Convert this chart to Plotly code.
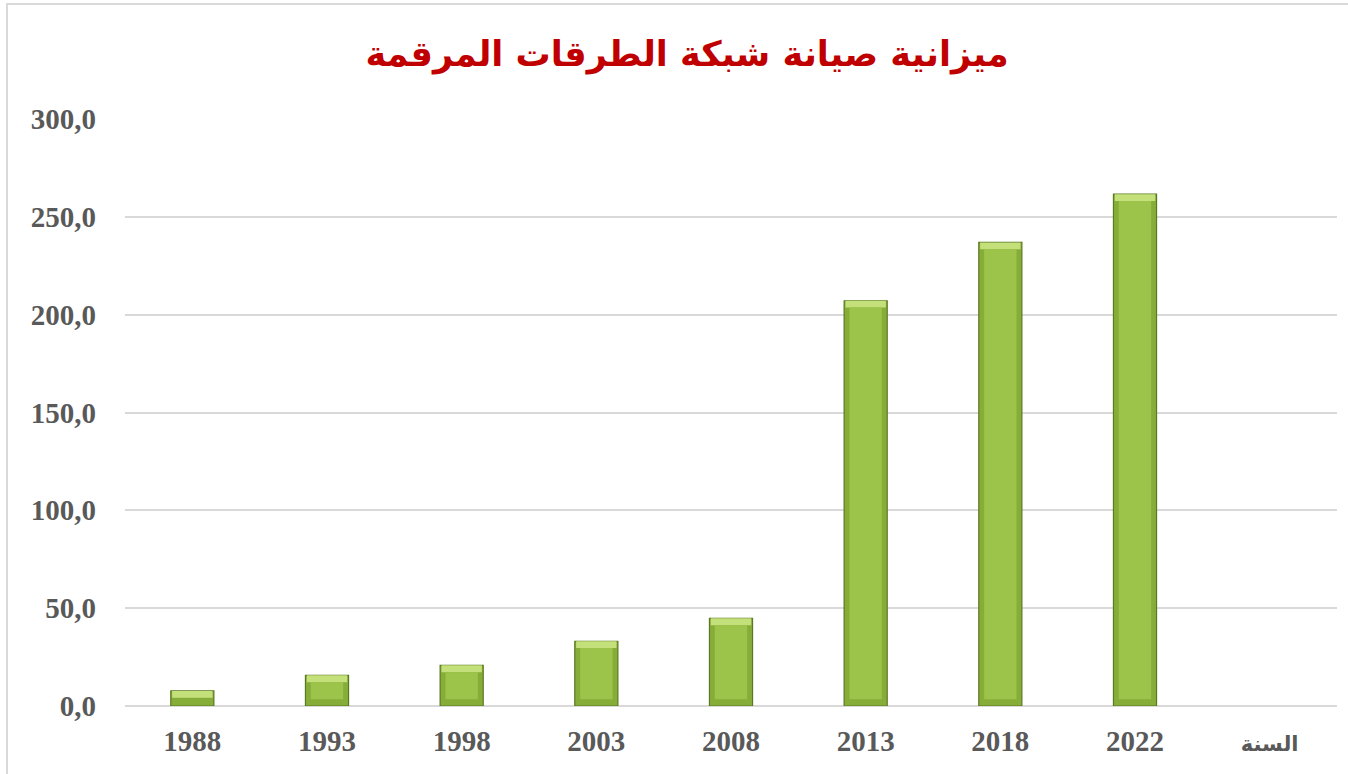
import plotly.graph_objects as go

categories = ["1988", "1993", "1998", "2003", "2008", "2013", "2018", "2022", "السنة"]
budget = [7.7, 15.7, 20.8, 33.1, 44.8, 207.1, 236.9, 261.6, None]
y_ticks = [0, 50, 100, 150, 200, 250, 300]
y_tick_labels = ["0,0", "50,0", "100,0", "150,0", "200,0", "250,0", "300,0"]
title_text = "ميزانية صيانة شبكة الطرقات المرقمة"

bevel = 3.5
xs = list(range(len(categories)))
tick_text = categories[:-1] + [
    '<span style="font-family:\'DejaVu Sans\';font-size:21px">' + categories[-1] + "</span>"
]

fig = go.Figure()
fig.add_trace(go.Bar(
    x=xs, y=budget, width=0.32,
    marker=dict(color="#87ad39", line=dict(color="#5b7822", width=1.2)),
    hoverinfo="skip",
))
fig.add_trace(go.Bar(
    x=xs,
    y=[bevel if v is not None else None for v in budget],
    base=[v - bevel if v is not None else None for v in budget],
    width=0.30,
    marker=dict(color="#c3e07a", line=dict(width=0)),
    hoverinfo="skip",
))
fig.add_trace(go.Bar(
    x=xs,
    y=[v - 2 * bevel if v is not None and v > 3 * bevel else None for v in budget],
    base=[bevel if v is not None and v > 3 * bevel else None for v in budget],
    width=0.24,
    marker=dict(color="#9cc44b", line=dict(width=0)),
    hoverinfo="skip",
))

fig.update_layout(
    width=1348, height=774,
    barmode="overlay",
    showlegend=False,
    paper_bgcolor="white", plot_bgcolor="white",
    margin=dict(l=125, r=11, t=119, b=68),
    title=dict(
        text="<b>" + title_text + "</b>",
        x=687 / 1348, xanchor="center",
        y=1 - 54 / 774, yanchor="middle",
        font=dict(family="DejaVu Sans", size=35, color="#c00000"),
    ),
    xaxis=dict(
        tickmode="array", tickvals=xs, ticktext=tick_text,
        range=[-0.5, len(categories) - 0.5],
        showgrid=False, zeroline=False, showline=False,
        ticks="", ticklabelstandoff=15,
        tickfont=dict(family="Liberation Serif", size=29, color="#595959", weight="bold"),
    ),
    yaxis=dict(
        range=[0, 300],
        tickmode="array", tickvals=y_ticks, ticktext=y_tick_labels,
        showgrid=True, gridcolor="#d9d9d9", gridwidth=2,
        zeroline=True, zerolinecolor="#d9d9d9", zerolinewidth=2,
        showline=False, ticks="", ticklabelstandoff=28,
        tickfont=dict(family="Liberation Serif", size=29, color="#595959", weight="bold"),
    ),
    shapes=[dict(
        type="rect", xref="paper", yref="paper",
        x0=(7 - 125) / 1212, x1=(1400 - 125) / 1212,
        y0=(706 - 820) / 587, y1=(706 - 4) / 587,
        line=dict(color="#d9d9d9", width=2), fillcolor="rgba(0,0,0,0)",
        layer="below",
    )],
)

fig.write_html(
    "out.html",
    config={"displayModeBar": False},
    post_script="document.body.style.margin='0';",
)
